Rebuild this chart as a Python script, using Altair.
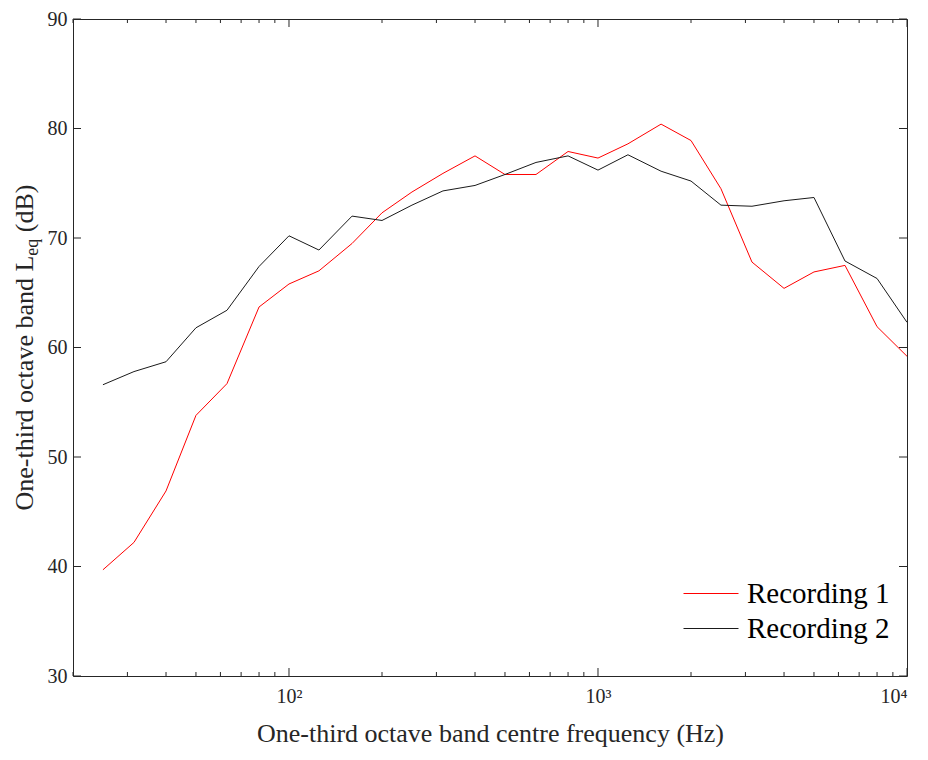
import altair as alt
import pandas as pd

# ---- data ----
freq = [25, 31.5, 40, 50, 63, 80, 100, 125, 160, 200, 250, 315, 400, 500, 630,
        800, 1000, 1250, 1600, 2000, 2500, 3150, 4000, 5000, 6300, 8000, 10000]
rec1 = [39.7, 42.2, 46.9, 53.8, 56.7, 63.7, 65.8, 67.0, 69.5, 72.3, 74.2, 75.9,
        77.5, 75.8, 75.8, 77.9, 77.3, 78.6, 80.4, 78.9, 74.5, 67.8, 65.4, 66.9,
        67.5, 61.9, 59.2]
rec2 = [56.6, 57.8, 58.7, 61.8, 63.4, 67.4, 70.2, 68.9, 72.0, 71.6, 73.0, 74.3,
        74.8, 75.8, 76.9, 77.5, 76.2, 77.6, 76.1, 75.2, 73.0, 72.9, 73.4, 73.7,
        67.9, 66.3, 62.3]
series_names = ["Recording 1", "Recording 2"]
series_colors = ["#ff0000", "#1a1a1a"]
y_ticks = [30, 40, 50, 60, 70, 80, 90]
x_major = [100, 1000, 10000]
x_minor = [20, 30, 40, 50, 60, 70, 80, 90,
           200, 300, 400, 500, 600, 700, 800, 900,
           2000, 3000, 4000, 5000, 6000, 7000, 8000, 9000]
x_title = "One-third octave band centre frequency (Hz)"
y_title_parts = ["One-third octave band L", "eq", "(dB)"]

# ---- style ----
W, H = 834, 657
FONT = "Liberation Serif"
INK = "#262626"
TFS = 26      # title font size
SFS = 18      # subscript font size

df = pd.DataFrame({
    "f": freq + freq,
    "v": rec1 + rec2,
    "s": [series_names[0]] * len(freq) + [series_names[1]] * len(freq),
})

xscale = alt.Scale(type="log", domain=[20, 10000], nice=False)
yscale = alt.Scale(domain=[30, 90], nice=False, zero=False)

x_axis = alt.Axis(
    values=x_major,
    labelExpr="datum.value == 100 ? '10\u00b2' : datum.value == 1000 ? '10\u00b3' : '10\u2074'",
    tickSize=0, domain=False, grid=False,
    labelFont=FONT, labelFontSize=20, labelColor=INK, labelPadding=10,
    title=x_title, titleFont=FONT, titleFontSize=TFS, titleFontWeight="normal",
    titleColor=INK, titleY=65, titleBaseline="alphabetic",
)
y_axis = alt.Axis(
    values=y_ticks, tickSize=0, domain=False, grid=False,
    labelFont=FONT, labelFontSize=20, labelColor=INK, labelPadding=6,
    title=None,
)

lines = alt.Chart(df).mark_line(strokeWidth=1).encode(
    x=alt.X("f:Q", scale=xscale, axis=x_axis),
    y=alt.Y("v:Q", scale=yscale, axis=y_axis),
    color=alt.Color(
        "s:N",
        scale=alt.Scale(domain=series_names, range=series_colors),
        legend=alt.Legend(
            title=None, orient="none", legendX=640, legendY=560,
            symbolType="M-8,0H2", symbolSize=121, symbolStrokeWidth=1,
            labelFont=FONT, labelFontSize=29, labelColor="#000000",
            labelOffset=5, rowPadding=5, padding=0,
        ),
    ),
)

minor_df = pd.DataFrame({"f": x_minor})
major_df = pd.DataFrame({"f": x_major})
ytick_df = pd.DataFrame({"v": y_ticks})

def xticks(d, y0, y1):
    return alt.Chart(d).mark_rule(color=INK, strokeWidth=1).encode(
        x=alt.X("f:Q", scale=xscale, axis=x_axis),
        y=alt.value(y0), y2=alt.value(y1),
    )

def yticks(x0, x1):
    return alt.Chart(ytick_df).mark_rule(color=INK, strokeWidth=1).encode(
        y=alt.Y("v:Q", scale=yscale, axis=y_axis),
        x=alt.value(x0), x2=alt.value(x1),
    )

tick_layers = [
    xticks(minor_df, H, H - 4), xticks(major_df, H, H - 8),
    xticks(minor_df, 0, 4), xticks(major_df, 0, 8),
    yticks(0, 8), yticks(W - 8, W),
]

# rotated y title with subscript (Liberation Serif = Times metrics)
w1 = 9.803 * TFS
w2 = 0.944 * SFS
sp = 0.25 * TFS
w3 = 1.833 * TFS
half = (w1 + w2 + sp + w3) / 2
TX, TY = -40, H / 2

def ytitle(txt, size, align, dx, dy):
    return alt.Chart(pd.DataFrame({"t": [txt]})).mark_text(
        angle=270, align=align, baseline="alphabetic", font=FONT,
        fontSize=size, color=INK, dx=dx, dy=dy,
    ).encode(x=alt.value(TX), y=alt.value(TY), text="t:N")

title_layers = [
    ytitle(y_title_parts[0], TFS, "right", w1 - half, 0),
    ytitle(y_title_parts[1], SFS, "left", w1 - half, 5),
    ytitle(y_title_parts[2], TFS, "left", w1 + w2 + sp - half, 0),
]

chart = alt.layer(lines, *tick_layers, *title_layers).properties(
    width=W, height=H,
    autosize=alt.AutoSizeParams(type="none"),
    padding={"left": 65, "top": 11, "right": 13, "bottom": 71},
    background="white",
).configure_view(stroke=INK, strokeWidth=1)

chart.save("out.html", embed_options={"renderer": "svg", "actions": False})
